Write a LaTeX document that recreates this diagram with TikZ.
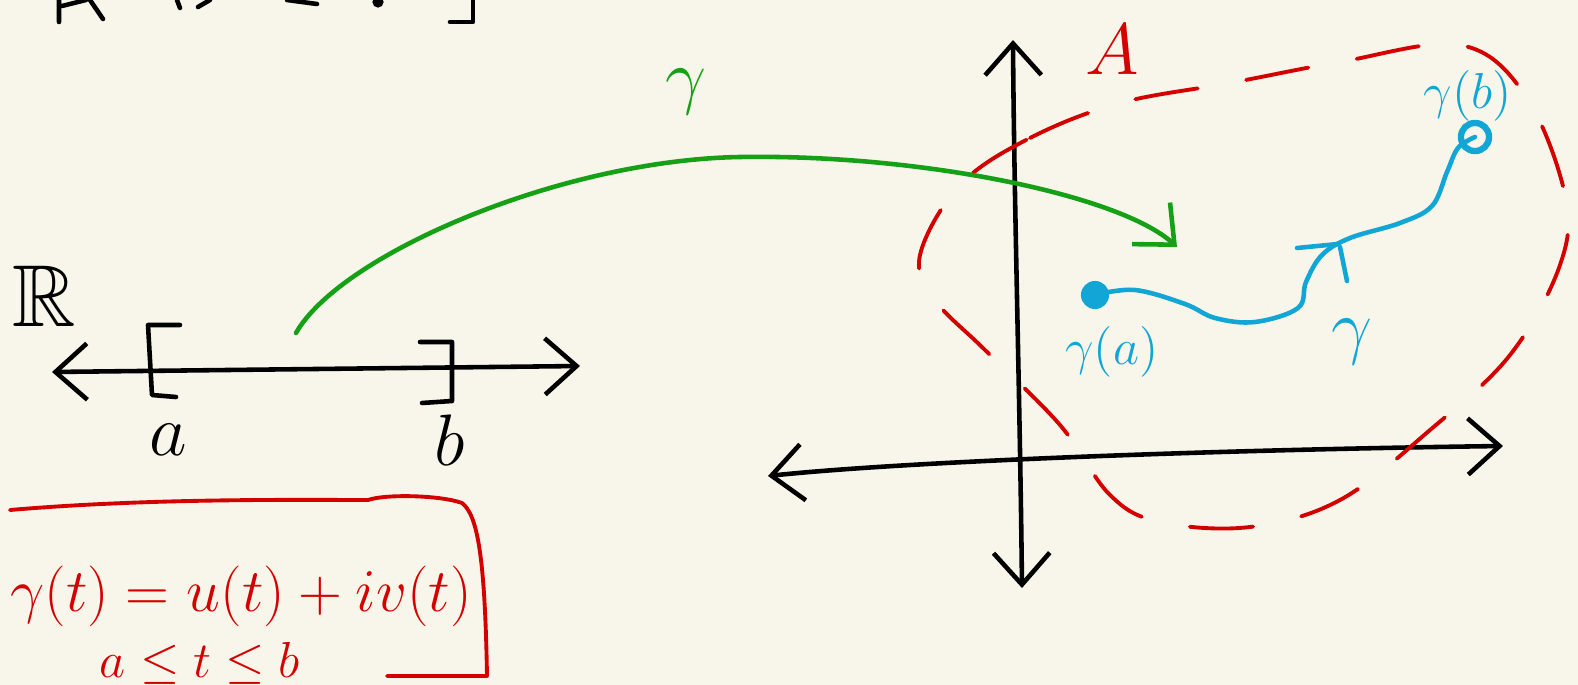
\documentclass[tikz,border=0pt]{standalone}
\usepackage{amssymb}
\usetikzlibrary{arrows.meta}
\definecolor{paper}{HTML}{F8F6EA}
\definecolor{inkred}{HTML}{D40000}
\definecolor{inkgreen}{HTML}{15A015}
\definecolor{inkblue}{HTML}{12A6D6}
\begin{document}
\begin{tikzpicture}[x=0.01cm,y=-0.01cm,line cap=round,line join=round,
  >={Straight Barb[length=9pt,width=16pt]},
  ink/.style={line width=1.3pt},
  region/.style={inkred,line width=1.1pt,dash pattern=on 18pt off 14pt},
  lbl/.style={inner sep=0pt},
  dot/.style={circle,fill=inkblue,inner sep=0pt,minimum size=8pt}]
  \fill[paper] (0,0) rectangle (1578,685);
  \useasboundingbox (0,0) rectangle (1578,685);
  % cut-off writing at the top edge
  \draw[ink] (59,0)--(59,22) (62,6)--(86,0) (90,0)--(103,19);
  \draw[ink] (177,0)--(180,8) (198,7)--(210,0) (287,0)--(317,4);
  \fill (378,2) circle(1.6pt);
  \draw[ink] (473,0)--(473,22)--(450,22);
  % real line
  \coordinate (rl) at (52,372); \coordinate (rr) at (580,366);
  \draw[ink,<->] (rl)--(rr);
  \draw[ink] (180,325)--(148,325)--(152,395)--(176,397);
  \draw[ink] (420,342)--(452,342)--(452,401)--(422,403);
  \node[lbl,font=\fontsize{25}{25}\selectfont] (R) at (44,296) {$\mathbb{R}$};
  \node[lbl,font=\huge] (a) at (168,440) {$a$};
  \node[lbl,font=\huge] (b) at (450,440) {$b$};
  % complex plane
  \coordinate (vb) at (1022,588); \coordinate (vt) at (1013,40);
  \coordinate (hl) at (768,476); \coordinate (hr) at (1503,446);
  \draw[ink,<->] (vb) .. controls (1020,400) and (1014,200) .. (vt);
  \draw[ink,<->] (hl) .. controls (900,462) and (1200,450) .. (hr);
  \draw[region] plot[smooth cycle,tension=0.6] coordinates {(960,185) (1030,138) (1120,103)
    (1230,83) (1340,62) (1460,45) (1525,95) (1565,195) (1560,265) (1510,355) (1430,430)
    (1340,500) (1250,527) (1160,522) (1110,495) (1060,425) (985,350) (935,300) (920,255)};
  \node[lbl,inkred,font=\huge] (A) at (1112,50) {$A$};
  % the map
  \coordinate (gs) at (296,333); \coordinate (gm) at (740,157); \coordinate (ge) at (1177,247);
  \draw[ink,inkgreen,->] (gs) .. controls (340,255) and (560,160) .. (gm)
    .. controls (920,154) and (1120,195) .. (ge);
  \node[lbl,inkgreen,font=\huge] (g) at (686,92) {$\gamma$};
  % the path in A
  \node[dot] (ga) at (1095,295) {};
  \node[circle,draw=inkblue,line width=1.8pt,inner sep=0pt,minimum size=8pt] (gb) at (1475,137) {};
  \draw[ink,inkblue] plot[smooth,tension=0.6] coordinates {(ga) (1135,290) (1185,304)
    (1215,318) (1255,322) (1298,308) (1306,282) (1322,255) (1350,238) (1400,223)
    (1432,206) (1447,172) (1458,148) (gb)};
  \draw[ink,inkblue] (1297,248)--(1338,244) (1340,247)--(1347,281);
  \node[lbl,inkblue,font=\Large] (gal) at (1112,352) {$\gamma(a)$};
  \node[lbl,inkblue,font=\huge] (gl) at (1352,342) {$\gamma$};
  \node[lbl,inkblue,font=\Large] (gbl) at (1468,96) {$\gamma(b)$};
  % definition box
  \draw[ink,inkred,line width=1.1pt] (10,510) .. controls (150,498) and (300,500) .. (368,500)
    .. controls (385,494) and (440,495) .. (462,503) .. controls (478,515) and (485,560) .. (487,676)
    -- (387,676);
  \node[lbl,inkred,font=\LARGE] (def) at (241,596) {$\gamma(t)=u(t)+iv(t)$};
  \node[lbl,inkred,font=\Large] (rng) at (200,663) {$a\leq t\leq b$};
\end{tikzpicture}
\end{document}
